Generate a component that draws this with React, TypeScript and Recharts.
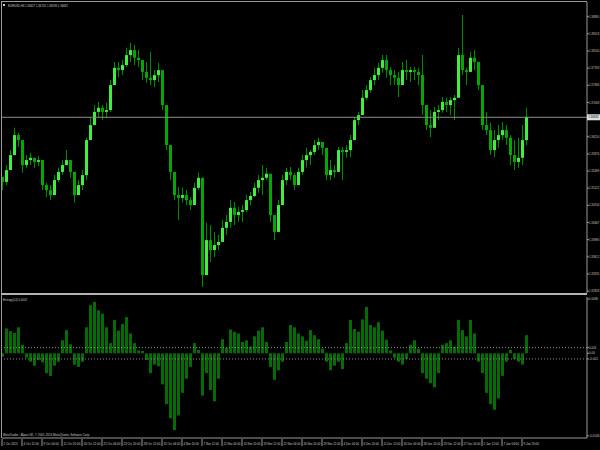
import { ComposedChart, BarChart, Bar, XAxis, YAxis, ReferenceLine, Cell } from 'recharts'

// EURUSD H4, one entry every few bars
const highs = [
  1.3537, 1.3563, 1.3596, 1.3645, 1.3634, 1.3618, 1.3585, 1.3590, 1.3579, 1.3583, 1.3574, 1.3524,
  1.3519, 1.3541, 1.3557, 1.3574, 1.3596, 1.3574, 1.3530, 1.3530, 1.3552, 1.3623, 1.3667, 1.3695,
  1.3702, 1.3695, 1.3700, 1.3750, 1.3790, 1.3790, 1.3794, 1.3821, 1.3832, 1.3827, 1.3816, 1.3794,
  1.3790, 1.3812, 1.3772, 1.3788, 1.3739, 1.3695, 1.3596, 1.3548, 1.3515, 1.3513, 1.3508, 1.3493,
  1.3524, 1.3546, 1.3535, 1.3436, 1.3431, 1.3416, 1.3409, 1.3442, 1.3453, 1.3486, 1.3482, 1.3471,
  1.3475, 1.3497, 1.3504, 1.3524, 1.3541, 1.3563, 1.3557, 1.3541, 1.3442, 1.3486, 1.3541, 1.3557,
  1.3559, 1.3546, 1.3557, 1.3585, 1.3601, 1.3596, 1.3618, 1.3623, 1.3614, 1.3585, 1.3574, 1.3563,
  1.3603, 1.3603, 1.3607, 1.3629, 1.3669, 1.3680, 1.3728, 1.3739, 1.3757, 1.3777, 1.3788, 1.3805,
  1.3805, 1.3779, 1.3772, 1.3768, 1.3790, 1.3794, 1.3779, 1.3779, 1.3777, 1.3805, 1.3695, 1.3684,
  1.3691, 1.3695, 1.3713, 1.3711, 1.3713, 1.3717, 1.3821, 1.3893, 1.3777, 1.3812, 1.3816, 1.3777,
  1.3717, 1.3680, 1.3656, 1.3640, 1.3651, 1.3658, 1.3651, 1.3629, 1.3618, 1.3623, 1.3651, 1.3689,
]
const lows = [
  1.3508, 1.3519, 1.3570, 1.3607, 1.3603, 1.3546, 1.3557, 1.3563, 1.3557, 1.3561, 1.3508, 1.3493,
  1.3486, 1.3508, 1.3526, 1.3541, 1.3563, 1.3535, 1.3480, 1.3497, 1.3508, 1.3530, 1.3618, 1.3651,
  1.3667, 1.3662, 1.3667, 1.3680, 1.3750, 1.3757, 1.3761, 1.3779, 1.3790, 1.3783, 1.3779, 1.3750,
  1.3744, 1.3739, 1.3735, 1.3746, 1.3684, 1.3596, 1.3530, 1.3486, 1.3442, 1.3480, 1.3475, 1.3464,
  1.3486, 1.3508, 1.3295, 1.3343, 1.3350, 1.3361, 1.3376, 1.3398, 1.3409, 1.3425, 1.3431, 1.3438,
  1.3438, 1.3460, 1.3475, 1.3493, 1.3502, 1.3497, 1.3530, 1.3438, 1.3398, 1.3431, 1.3475, 1.3519,
  1.3530, 1.3508, 1.3519, 1.3541, 1.3557, 1.3563, 1.3585, 1.3596, 1.3585, 1.3530, 1.3530, 1.3535,
  1.3563, 1.3530, 1.3579, 1.3581, 1.3623, 1.3651, 1.3684, 1.3706, 1.3722, 1.3739, 1.3750, 1.3766,
  1.3755, 1.3739, 1.3739, 1.3713, 1.3739, 1.3750, 1.3746, 1.3750, 1.3739, 1.3673, 1.3640, 1.3625,
  1.3658, 1.3662, 1.3678, 1.3680, 1.3673, 1.3662, 1.3717, 1.3761, 1.3739, 1.3768, 1.3772, 1.3728,
  1.3640, 1.3629, 1.3585, 1.3581, 1.3601, 1.3618, 1.3607, 1.3563, 1.3552, 1.3557, 1.3563, 1.3607,
]
const closes = [
  1.3526, 1.3552, 1.3585, 1.3629, 1.3618, 1.3563, 1.3574, 1.3579, 1.3570, 1.3574, 1.3519, 1.3508,
  1.3497, 1.3530, 1.3548, 1.3563, 1.3574, 1.3548, 1.3497, 1.3519, 1.3541, 1.3618, 1.3651, 1.3680,
  1.3689, 1.3680, 1.3684, 1.3739, 1.3777, 1.3772, 1.3783, 1.3805, 1.3816, 1.3799, 1.3794, 1.3768,
  1.3755, 1.3750, 1.3761, 1.3772, 1.3695, 1.3607, 1.3548, 1.3497, 1.3491, 1.3497, 1.3486, 1.3475,
  1.3513, 1.3535, 1.3321, 1.3398, 1.3376, 1.3387, 1.3394, 1.3425, 1.3438, 1.3469, 1.3453, 1.3460,
  1.3464, 1.3486, 1.3495, 1.3513, 1.3530, 1.3535, 1.3544, 1.3453, 1.3416, 1.3475, 1.3530, 1.3548,
  1.3541, 1.3519, 1.3548, 1.3574, 1.3585, 1.3592, 1.3607, 1.3614, 1.3601, 1.3541, 1.3552, 1.3548,
  1.3596, 1.3592, 1.3596, 1.3618, 1.3662, 1.3673, 1.3711, 1.3728, 1.3750, 1.3761, 1.3777, 1.3794,
  1.3772, 1.3761, 1.3755, 1.3739, 1.3772, 1.3768, 1.3772, 1.3768, 1.3761, 1.3695, 1.3651, 1.3645,
  1.3680, 1.3684, 1.3702, 1.3695, 1.3706, 1.3711, 1.3805, 1.3772, 1.3768, 1.3799, 1.3790, 1.3739,
  1.3651, 1.3640, 1.3596, 1.3618, 1.3629, 1.3640, 1.3623, 1.3585, 1.3570, 1.3579, 1.3618, 1.3669,
]

// Entropy(14) histogram
const entropy = [
  -0.0006, 0.0044, 0.0039, 0.0036, 0.0046, 0.0015, -0.0008, -0.0015, -0.0022, -0.0012, -0.0016, -0.0035,
  -0.0040, -0.0022, -0.0015, 0.0023, 0.0041, 0.0016, -0.0020, -0.0024, -0.0015, 0.0046, 0.0085, 0.0091,
  0.0076, 0.0070, 0.0046, 0.0018, 0.0059, 0.0040, 0.0052, 0.0064, 0.0035, 0.0018, 0.0005, 0.0004,
  -0.0012, -0.0035, -0.0020, -0.0023, -0.0055, -0.0090, -0.0115, -0.0136, -0.0110, -0.0070, -0.0045, -0.0024,
  0.0018, 0.0006, -0.0075, -0.0035, -0.0065, -0.0085, -0.0045, 0.0025, 0.0010, 0.0042, 0.0038, 0.0035,
  0.0020, 0.0023, 0.0012, 0.0030, 0.0040, 0.0046, 0.0020, -0.0024, -0.0047, -0.0030, -0.0015, 0.0020,
  0.0050, 0.0046, 0.0035, 0.0030, 0.0022, 0.0041, 0.0032, 0.0025, 0.0008, -0.0015, -0.0030, -0.0022,
  -0.0015, -0.0028, 0.0018, 0.0059, 0.0043, 0.0038, 0.0060, 0.0082, 0.0050, 0.0046, 0.0055, 0.0040,
  0.0024, 0.0005, -0.0008, -0.0015, -0.0020, -0.0010, 0.0015, 0.0023, 0.0008, -0.0035, -0.0045, -0.0053,
  -0.0060, -0.0035, 0.0015, 0.0018, 0.0023, 0.0012, 0.0059, 0.0041, 0.0030, 0.0059, 0.0035, -0.0015,
  -0.0035, -0.0070, -0.0090, -0.0100, -0.0080, -0.0040, -0.0015, 0.0006, -0.0010, -0.0015, -0.0020, 0.0032,
]

// the 1.36631 level sits under the current-price box, so it is left out
const priceTicks = [
  1.38895, 1.38518, 1.3814, 1.37763, 1.37386, 1.37008, 1.36254, 1.35876,
  1.35499, 1.35122, 1.34744, 1.34367, 1.3399, 1.33612, 1.33235, 1.32858,
]
const lastPrice = 1.36682
const entropyTicks = [0.0096, 0.001, 0, -0.001, -0.0146]
const entropyTickText = ['0.0096', '0.001', '0.00', '-0.001', '-0.0146']
const levels = [0.001, -0.001]

const dateLabels = [
  '1 Oct 2013', '4 Oct 12:00', '9 Oct 04:00', '11 Oct 20:00', '16 Oct 12:00', '21 Oct 04:00',
  '23 Oct 20:00', '28 Oct 12:00', '31 Oct 04:00', '4 Nov 20:00', '7 Nov 12:00', '12 Nov 04:00',
  '14 Nov 20:00', '19 Nov 12:00', '22 Nov 04:00', '26 Nov 20:00', '29 Nov 12:00', '4 Dec 04:00',
  '6 Dec 20:00', '11 Dec 12:00', '16 Dec 04:00', '18 Dec 20:00', '23 Dec 12:00', '27 Dec 04:00',
  '2 Jan 12:00', '7 Jan 04:00', '9 Jan 20:00',
]
const dateTickPos = dateLabels.map((_, k) => 5 * k - 0.25)

const UP = '#3cf03c'
const DOWN = '#00a800'
const WICK = '#008a00'
const HIST = '#006e00'
const FRAME = '#9a9a9a'
const TEXT = '#c8c8c8'
const FONT = 'Liberation Sans'
const FS = 3

const candles = closes.map((c, i) => {
  const o = i === 0 ? highs[0] : closes[i - 1]
  return {
    i,
    wick: [lows[i], highs[i]],
    body: [Math.min(o, c), Math.max(o, c)],
    up: c >= o,
  }
})
const hist = entropy.map((v, i) => ({ i, v }))

const xDomain = [-0.25, 146]

const PriceTick = (props: any) => {
  const { x, y, payload } = props
  if (payload.value === lastPrice) {
    return (
      <g>
        <rect x={x} y={y - 3} width={13} height={6} fill="#e0e0e0" />
        <text x={x + 1.2} y={y + 1.1} fontSize={FS} fill="#000" fontFamily={FONT}
          textLength={10.5} lengthAdjust="spacingAndGlyphs">{lastPrice.toFixed(5)}</text>
      </g>
    )
  }
  return (
    <g>
      <line x1={x} x2={x + 2} y1={y} y2={y} stroke={FRAME} />
      <text x={x + 2} y={y + 1.1} fontSize={FS} fill={TEXT} fontFamily={FONT}
        textLength={10.3} lengthAdjust="spacingAndGlyphs">{payload.value.toFixed(5)}</text>
    </g>
  )
}

const EntropyTick = (props: any) => {
  const { x, y, payload } = props
  const k = entropyTicks.indexOf(payload.value)
  const label = entropyTickText[k] ?? ''
  return (
    <g>
      <line x1={x} x2={x + 2} y1={y} y2={y} stroke={FRAME} />
      <text x={x + 2} y={y + 1.1} fontSize={FS} fill={TEXT} fontFamily={FONT}
        textLength={label.length * 1.5} lengthAdjust="spacingAndGlyphs">{label}</text>
    </g>
  )
}

const DateTick = (props: any) => {
  const { x, y, payload } = props
  const k = Math.round((payload.value + 0.25) / 5)
  const label = dateLabels[k] ?? ''
  return (
    <g>
      <line x1={x} x2={x} y1={y + 1} y2={y + 8} stroke={FRAME} />
      <text x={x + 1.5} y={y + 6.5} fontSize={2.9} fill={TEXT} fontFamily={FONT}
        textLength={label.length * 1.4} lengthAdjust="spacingAndGlyphs">{label}</text>
    </g>
  )
}

export default function App() {
  return (
    <div style={{ position: 'absolute', left: 0, top: 0, width: 600, height: 450, background: '#000', overflow: 'hidden' }}>
      {/* price panel */}
      <div style={{ position: 'absolute', left: 0, top: 0 }}>
        <ComposedChart width={600} height={294} data={candles} margin={{ top: 2, right: 0, bottom: 1, left: 2 }}>
          <XAxis xAxisId="w" dataKey="i" type="number" domain={xDomain} allowDataOverflow hide />
          <XAxis xAxisId="b" dataKey="i" type="number" domain={xDomain} allowDataOverflow hide />
          <YAxis
            orientation="right"
            width={13}
            type="number"
            domain={[1.32816, 1.39218]}
            allowDataOverflow
            ticks={[...priceTicks, lastPrice]}
            interval={0}
            tickSize={0}
            tickMargin={0}
            axisLine={{ stroke: FRAME }}
            tickLine={false}
            tick={<PriceTick />}
          />
          <ReferenceLine y={lastPrice} stroke="#8c8c8c" strokeWidth={1} />
          <Bar xAxisId="w" dataKey="wick" barSize={1} fill={WICK} isAnimationActive={false} />
          <Bar xAxisId="b" dataKey="body" barSize={3} isAnimationActive={false}>
            {candles.map((d, i) => (
              <Cell key={i} fill={d.up ? UP : DOWN} />
            ))}
          </Bar>
        </ComposedChart>
      </div>

      {/* indicator panel */}
      <div style={{ position: 'absolute', left: 0, top: 296 }}>
        <BarChart width={600} height={154} data={hist} margin={{ top: 1, right: 0, bottom: 0, left: 2 }}>
          <XAxis
            dataKey="i"
            type="number"
            domain={xDomain}
            allowDataOverflow
            ticks={dateTickPos}
            interval={0}
            height={12}
            tickSize={0}
            tickMargin={0}
            axisLine={{ stroke: FRAME }}
            tickLine={false}
            tick={<DateTick />}
          />
          <YAxis
            orientation="right"
            width={13}
            type="number"
            domain={[-0.01499, 0.00996]}
            allowDataOverflow
            ticks={entropyTicks}
            interval={0}
            tickSize={0}
            tickMargin={0}
            axisLine={{ stroke: FRAME }}
            tickLine={false}
            tick={<EntropyTick />}
          />
          {levels.map((l) => (
            <ReferenceLine key={l} y={l} stroke="#8c8c8c" strokeDasharray="1 2" />
          ))}
          <Bar dataKey="v" barSize={3} fill={HIST} isAnimationActive={false} />
        </BarChart>
      </div>

      {/* frame */}
      <div style={{ position: 'absolute', left: 1, top: 1, width: 586, height: 1, background: FRAME }} />
      <div style={{ position: 'absolute', left: 1, top: 1, width: 1, height: 437, background: FRAME }} />
      <div style={{ position: 'absolute', left: 1, top: 293, width: 586, height: 2, background: '#b4b4b4' }} />

      {/* captions */}
      <svg width={600} height={450} style={{ position: 'absolute', left: 0, top: 0, pointerEvents: 'none' }}>
        <rect x={3} y={4} width={2} height={2} fill={TEXT} />
        <text x={8} y={6.6} fontSize={FS} fill={TEXT} fontFamily={FONT} textLength={60} lengthAdjust="spacingAndGlyphs">
          EURUSD,H4 1.36627 1.36720 1.36599 1.36682
        </text>
        <text x={3} y={301} fontSize={FS} fill={TEXT} fontFamily={FONT} textLength={24} lengthAdjust="spacingAndGlyphs">
          Entropy(14) 0.0002
        </text>
        <text x={3} y={435.5} fontSize={FS} fill={TEXT} fontFamily={FONT} textLength={87} lengthAdjust="spacingAndGlyphs">
          MetaTrader - Alpari UK, © 2001-2013 MetaQuotes Software Corp.
        </text>
      </svg>
    </div>
  )
}
